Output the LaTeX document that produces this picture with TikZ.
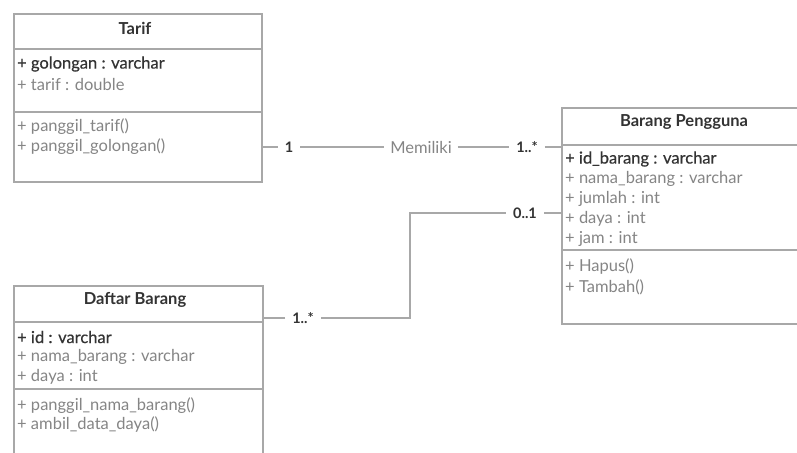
\documentclass[tikz,border=0pt]{standalone}
\usepackage{fontspec}
\setmainfont{Lato}
\newfontface\keyface{Lato}[FakeBold=0.45]
\definecolor{bord}{HTML}{A8A8A8}
\definecolor{txtg}{HTML}{858585}
\definecolor{txtd}{HTML}{333333}
\begin{document}
\begin{tikzpicture}[x=1pt,y=-1pt,
  umlbox/.style={draw=bord, line width=2pt, rectangle, inner sep=0pt, anchor=north west},
  divider/.style={draw=bord, line width=2pt},
  attr/.style={anchor=west, inner sep=0pt, font=\fontsize{16.5}{19}\selectfont, text=txtg},
  keyattr/.style={attr, font=\keyface\fontsize{16.5}{19}\selectfont, text=txtd},
  umltitle/.style={inner sep=0pt, font=\bfseries\fontsize{16.5}{19}\selectfont, text=txtd},
  mult/.style={inner xsep=7pt, inner ysep=2pt, font=\bfseries\fontsize{14.5}{17}\selectfont, text=txtd},
  assoc/.style={inner xsep=6pt, inner ysep=2pt, font=\fontsize{16.5}{19}\selectfont, text=txtg},
  conn/.style={draw=bord, line width=2pt}]
\useasboundingbox (0,0) rectangle (797,452);
\clip (0,0) rectangle (797,452);
\fill[white] (0,0) rectangle (797,452);

% Tarif
\node[umlbox, minimum width=248pt, minimum height=168pt] (tarif) at (13,13) {};
\draw[divider] (13,49) -- (261,49);
\draw[divider] (13,112) -- (261,112);
\node[umltitle] (tarifT) at (135,28) {Tarif};
\node[keyattr] (tarifA1) at (17,64) {+ golongan : varchar};
\node[attr] (tarifA2) at (17,84) {+ tarif : double};
\node[attr] (tarifO1) at (17,127) {+ panggil\_tarif()};
\node[attr] (tarifO2) at (17,147) {+ panggil\_golongan()};

% Barang Pengguna
\node[umlbox, minimum width=251pt, minimum height=216pt] (bp) at (561,107) {};
\draw[divider] (561,145) -- (812,145);
\draw[divider] (561,250) -- (812,250);
\node[umltitle] (bpT) at (684,122) {Barang Pengguna};
\node[keyattr] (bpA1) at (565,159) {+ id\_barang : varchar};
\node[attr] (bpA2) at (565,179) {+ nama\_barang : varchar};
\node[attr] (bpA3) at (565,199) {+ jumlah : int};
\node[attr] (bpA4) at (565,219) {+ daya : int};
\node[attr] (bpA5) at (565,239) {+ jam : int};
\node[attr] (bpO1) at (565,267) {+ Hapus()};
\node[attr] (bpO2) at (565,287) {+ Tambah()};

% Daftar Barang
\node[umlbox, minimum width=249pt, minimum height=200pt] (db) at (13,285) {};
\draw[divider] (13,322) -- (262,322);
\draw[divider] (13,389) -- (262,389);
\node[umltitle] (dbT) at (135,300) {Daftar Barang};
\node[keyattr] (dbA1) at (17,337) {+ id : varchar};
\node[attr] (dbA2) at (17,357) {+ nama\_barang : varchar};
\node[attr] (dbA3) at (17,377) {+ daya : int};
\node[attr] (dbO1) at (17,406) {+ panggil\_nama\_barang()};
\node[attr] (dbO2) at (17,425) {+ ambil\_data\_daya()};

% Association Tarif -- Barang Pengguna
\node[mult] (m1) at (289,147) {1};
\node[assoc] (mem) at (421,147) {Memiliki};
\node[mult] (m2) at (527,147) {1..*};
\draw[conn] (tarif.east |- m1) -- (m1.west);
\draw[conn] (m1.east) -- (mem.west);
\draw[conn] (mem.east) -- (m2.west);
\draw[conn] (m2.east) -- (bp.west |- m2);

% Association Daftar Barang -- Barang Pengguna
\node[mult] (m3) at (525,213) {0..1};
\node[mult] (m4) at (303,318) {1..*};
\coordinate (k1) at (410,213);
\coordinate (k2) at (410,318);
\draw[conn] (bp.west |- m3) -- (m3.east);
\draw[conn] (m3.west) -- (k1) -- (k2) -- (m4.east);
\draw[conn] (m4.west) -- (db.east |- m4);
\end{tikzpicture}
\end{document}
